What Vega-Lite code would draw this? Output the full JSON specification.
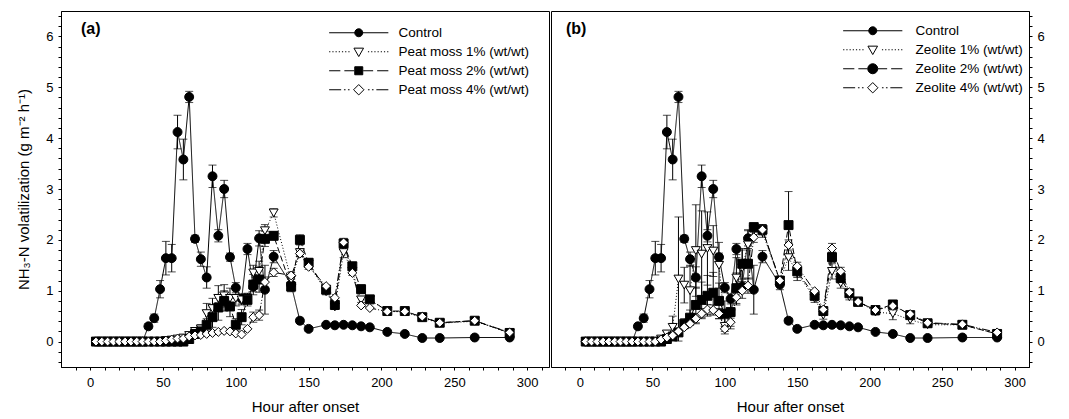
{
"$schema":"https://vega.github.io/schema/vega-lite/v6.json",
"padding":{"left":16,"top":9,"right":0,"bottom":0},
"config":{"font":"Liberation Sans","view":{"stroke":"black","strokeWidth":1},
"axis":{"grid":false,"domainColor":"black","tickColor":"black","labelColor":"black","titleColor":"black","labelFont":"Liberation Sans","titleFont":"Liberation Sans","labelFontSize":13,"titleFontSize":15,"titleFontWeight":"normal","labelFlush":false,"labelOverlap":false,"labelBound":false}},
"datasets":{"d":[
{"p":"ab","s":"C","h":4,"v":0},{"p":"ab","s":"C","h":8,"v":0},{"p":"ab","s":"C","h":12,"v":0},{"p":"ab","s":"C","h":16,"v":0},{"p":"ab","s":"C","h":20,"v":0},{"p":"ab","s":"C","h":24,"v":0},{"p":"ab","s":"C","h":28,"v":0},{"p":"ab","s":"C","h":32,"v":0},{"p":"ab","s":"C","h":36,"v":0},
{"p":"ab","s":"C","h":40,"v":0.30,"e":0.05},{"p":"ab","s":"C","h":44,"v":0.46,"e":0.08},{"p":"ab","s":"C","h":48,"v":1.03,"e":0.17},{"p":"ab","s":"C","h":52,"v":1.64,"e":0.33},{"p":"ab","s":"C","h":56,"v":1.64,"e":0.27},{"p":"ab","s":"C","h":60,"v":4.12,"e":0.33},{"p":"ab","s":"C","h":64,"v":3.58,"e":0.40},{"p":"ab","s":"C","h":68,"v":4.81,"e":0.11},{"p":"ab","s":"C","h":72,"v":2.02,"e":0.07},{"p":"ab","s":"C","h":76,"v":1.62,"e":0.14},{"p":"ab","s":"C","h":80,"v":1.26,"e":0.21},{"p":"ab","s":"C","h":84,"v":3.25,"e":0.22},{"p":"ab","s":"C","h":88,"v":2.08,"e":0.12},{"p":"ab","s":"C","h":92,"v":3.00,"e":0.17},{"p":"ab","s":"C","h":96,"v":1.66,"e":0.08},{"p":"ab","s":"C","h":100,"v":1.06,"e":0.10},{"p":"ab","s":"C","h":104,"v":0.84,"e":0.10},{"p":"ab","s":"C","h":108,"v":1.82,"e":0.11},{"p":"ab","s":"C","h":112,"v":1.08,"e":0.10},{"p":"ab","s":"C","h":116,"v":2.03,"e":0.15},{"p":"ab","s":"C","h":120,"v":1.02,"e":0.48},{"p":"ab","s":"C","h":126,"v":1.67,"e":0.12},{"p":"ab","s":"C","h":138,"v":1.12,"e":0.10},{"p":"ab","s":"C","h":144,"v":0.41,"e":0.05},{"p":"ab","s":"C","h":150,"v":0.25,"e":0.04},{"p":"ab","s":"C","h":162,"v":0.33,"e":0.03},{"p":"ab","s":"C","h":168,"v":0.32,"e":0.03},{"p":"ab","s":"C","h":174,"v":0.33,"e":0.03},{"p":"ab","s":"C","h":180,"v":0.32},{"p":"ab","s":"C","h":186,"v":0.30},{"p":"ab","s":"C","h":192,"v":0.28},{"p":"ab","s":"C","h":204,"v":0.19},{"p":"ab","s":"C","h":216,"v":0.15},{"p":"ab","s":"C","h":228,"v":0.07},{"p":"ab","s":"C","h":240,"v":0.07},{"p":"ab","s":"C","h":264,"v":0.08},{"p":"ab","s":"C","h":288,"v":0.08},
{"p":"a","s":"P1","h":4,"v":0},{"p":"a","s":"P1","h":8,"v":0},{"p":"a","s":"P1","h":12,"v":0},{"p":"a","s":"P1","h":16,"v":0},{"p":"a","s":"P1","h":20,"v":0},{"p":"a","s":"P1","h":24,"v":0},{"p":"a","s":"P1","h":28,"v":0},{"p":"a","s":"P1","h":32,"v":0},{"p":"a","s":"P1","h":36,"v":0},{"p":"a","s":"P1","h":40,"v":0},{"p":"a","s":"P1","h":44,"v":0},{"p":"a","s":"P1","h":48,"v":0},
{"p":"a","s":"P1","h":52,"v":0.02},{"p":"a","s":"P1","h":56,"v":0.03},{"p":"a","s":"P1","h":60,"v":0.05},{"p":"a","s":"P1","h":64,"v":0.07},{"p":"a","s":"P1","h":68,"v":0.12},{"p":"a","s":"P1","h":72,"v":0.20,"e":0.05},{"p":"a","s":"P1","h":76,"v":0.25,"e":0.08},{"p":"a","s":"P1","h":80,"v":0.55,"e":0.2},{"p":"a","s":"P1","h":84,"v":0.65,"e":0.2},{"p":"a","s":"P1","h":88,"v":0.85,"e":0.25},{"p":"a","s":"P1","h":92,"v":0.90,"e":0.22},{"p":"a","s":"P1","h":96,"v":0.85,"e":0.2},{"p":"a","s":"P1","h":100,"v":0.85,"e":0.15},{"p":"a","s":"P1","h":104,"v":0.82,"e":0.1},{"p":"a","s":"P1","h":108,"v":0.85,"e":0.1},{"p":"a","s":"P1","h":112,"v":1.35,"e":0.15},{"p":"a","s":"P1","h":116,"v":1.38,"e":0.2},{"p":"a","s":"P1","h":120,"v":2.18,"e":0.12},{"p":"a","s":"P1","h":126,"v":2.53,"e":0.08},{"p":"a","s":"P1","h":138,"v":1.22,"e":0.1},{"p":"a","s":"P1","h":144,"v":1.75,"e":0.08},{"p":"a","s":"P1","h":150,"v":1.52,"e":0.06},{"p":"a","s":"P1","h":162,"v":0.98,"e":0.06},{"p":"a","s":"P1","h":168,"v":0.68,"e":0.05},{"p":"a","s":"P1","h":174,"v":1.75,"e":0.1},{"p":"a","s":"P1","h":180,"v":1.38,"e":0.08},{"p":"a","s":"P1","h":186,"v":0.82,"e":0.05},{"p":"a","s":"P1","h":192,"v":0.82},{"p":"a","s":"P1","h":204,"v":0.60},{"p":"a","s":"P1","h":216,"v":0.58},{"p":"a","s":"P1","h":228,"v":0.47},{"p":"a","s":"P1","h":240,"v":0.36},{"p":"a","s":"P1","h":264,"v":0.40},{"p":"a","s":"P1","h":288,"v":0.17},
{"p":"a","s":"P2","h":4,"v":0},{"p":"a","s":"P2","h":8,"v":0},{"p":"a","s":"P2","h":12,"v":0},{"p":"a","s":"P2","h":16,"v":0},{"p":"a","s":"P2","h":20,"v":0},{"p":"a","s":"P2","h":24,"v":0},{"p":"a","s":"P2","h":28,"v":0},{"p":"a","s":"P2","h":32,"v":0},{"p":"a","s":"P2","h":36,"v":0},{"p":"a","s":"P2","h":40,"v":0},{"p":"a","s":"P2","h":44,"v":0},{"p":"a","s":"P2","h":48,"v":0},{"p":"a","s":"P2","h":52,"v":0},{"p":"a","s":"P2","h":56,"v":0},{"p":"a","s":"P2","h":60,"v":0},{"p":"a","s":"P2","h":64,"v":0},
{"p":"a","s":"P2","h":68,"v":0.05},{"p":"a","s":"P2","h":72,"v":0.15},{"p":"a","s":"P2","h":76,"v":0.20,"e":0.05},{"p":"a","s":"P2","h":80,"v":0.33,"e":0.12},{"p":"a","s":"P2","h":84,"v":0.48,"e":0.2},{"p":"a","s":"P2","h":88,"v":0.67,"e":0.25},{"p":"a","s":"P2","h":92,"v":0.80,"e":0.2},{"p":"a","s":"P2","h":96,"v":0.69,"e":0.2},{"p":"a","s":"P2","h":100,"v":0.33,"e":0.12},{"p":"a","s":"P2","h":104,"v":0.48,"e":0.15},{"p":"a","s":"P2","h":108,"v":0.82,"e":0.12},{"p":"a","s":"P2","h":112,"v":1.12,"e":0.2},{"p":"a","s":"P2","h":116,"v":1.22,"e":0.25},{"p":"a","s":"P2","h":120,"v":2.02,"e":0.15},{"p":"a","s":"P2","h":126,"v":2.08,"e":0.08},{"p":"a","s":"P2","h":138,"v":1.08,"e":0.1},{"p":"a","s":"P2","h":144,"v":2.0,"e":0.1},{"p":"a","s":"P2","h":150,"v":1.55,"e":0.08},{"p":"a","s":"P2","h":162,"v":1.02,"e":0.06},{"p":"a","s":"P2","h":168,"v":0.72,"e":0.05},{"p":"a","s":"P2","h":174,"v":1.93,"e":0.08},{"p":"a","s":"P2","h":180,"v":1.48,"e":0.08},{"p":"a","s":"P2","h":186,"v":1.03,"e":0.08},{"p":"a","s":"P2","h":192,"v":0.83,"e":0.06},{"p":"a","s":"P2","h":204,"v":0.60},{"p":"a","s":"P2","h":216,"v":0.60},{"p":"a","s":"P2","h":228,"v":0.48},{"p":"a","s":"P2","h":240,"v":0.37},{"p":"a","s":"P2","h":264,"v":0.41},{"p":"a","s":"P2","h":288,"v":0.17},
{"p":"a","s":"P4","h":4,"v":0},{"p":"a","s":"P4","h":8,"v":0},{"p":"a","s":"P4","h":12,"v":0},{"p":"a","s":"P4","h":16,"v":0},{"p":"a","s":"P4","h":20,"v":0},{"p":"a","s":"P4","h":24,"v":0},{"p":"a","s":"P4","h":28,"v":0},{"p":"a","s":"P4","h":32,"v":0},{"p":"a","s":"P4","h":36,"v":0},{"p":"a","s":"P4","h":40,"v":0},{"p":"a","s":"P4","h":44,"v":0},{"p":"a","s":"P4","h":48,"v":0},
{"p":"a","s":"P4","h":52,"v":0.02},{"p":"a","s":"P4","h":56,"v":0.04},{"p":"a","s":"P4","h":60,"v":0.06},{"p":"a","s":"P4","h":64,"v":0.06},{"p":"a","s":"P4","h":68,"v":0.10},{"p":"a","s":"P4","h":72,"v":0.12},{"p":"a","s":"P4","h":76,"v":0.13},{"p":"a","s":"P4","h":80,"v":0.15},{"p":"a","s":"P4","h":84,"v":0.17},{"p":"a","s":"P4","h":88,"v":0.19},{"p":"a","s":"P4","h":92,"v":0.21},{"p":"a","s":"P4","h":96,"v":0.20},{"p":"a","s":"P4","h":100,"v":0.16},{"p":"a","s":"P4","h":104,"v":0.14},{"p":"a","s":"P4","h":108,"v":0.25},{"p":"a","s":"P4","h":112,"v":0.48,"e":0.1},{"p":"a","s":"P4","h":116,"v":0.52,"e":0.1},{"p":"a","s":"P4","h":120,"v":1.17,"e":0.1},{"p":"a","s":"P4","h":126,"v":1.36,"e":0.08},{"p":"a","s":"P4","h":138,"v":1.30,"e":0.06},{"p":"a","s":"P4","h":144,"v":1.73,"e":0.06},{"p":"a","s":"P4","h":150,"v":1.47,"e":0.05},{"p":"a","s":"P4","h":162,"v":1.09},{"p":"a","s":"P4","h":168,"v":0.86},{"p":"a","s":"P4","h":174,"v":1.95,"e":0.08},{"p":"a","s":"P4","h":180,"v":1.35},{"p":"a","s":"P4","h":186,"v":0.71},{"p":"a","s":"P4","h":192,"v":0.66},{"p":"a","s":"P4","h":204,"v":0.59},{"p":"a","s":"P4","h":216,"v":0.59},{"p":"a","s":"P4","h":228,"v":0.49},{"p":"a","s":"P4","h":240,"v":0.37},{"p":"a","s":"P4","h":264,"v":0.41},{"p":"a","s":"P4","h":288,"v":0.18},
{"p":"b","s":"Z1","h":4,"v":0},{"p":"b","s":"Z1","h":8,"v":0},{"p":"b","s":"Z1","h":12,"v":0},{"p":"b","s":"Z1","h":16,"v":0},{"p":"b","s":"Z1","h":20,"v":0},{"p":"b","s":"Z1","h":24,"v":0},{"p":"b","s":"Z1","h":28,"v":0},{"p":"b","s":"Z1","h":32,"v":0},{"p":"b","s":"Z1","h":36,"v":0},{"p":"b","s":"Z1","h":40,"v":0},{"p":"b","s":"Z1","h":44,"v":0},{"p":"b","s":"Z1","h":48,"v":0},{"p":"b","s":"Z1","h":52,"v":0},
{"p":"b","s":"Z1","h":56,"v":0.05},{"p":"b","s":"Z1","h":60,"v":0.15,"e":0.05},{"p":"b","s":"Z1","h":64,"v":0.28,"e":0.22},{"p":"b","s":"Z1","h":68,"v":1.23,"e":1.22},{"p":"b","s":"Z1","h":72,"v":1.11,"e":0.35},{"p":"b","s":"Z1","h":76,"v":1.0,"e":0.5},{"p":"b","s":"Z1","h":80,"v":1.79,"e":0.9},{"p":"b","s":"Z1","h":84,"v":1.72,"e":0.85},{"p":"b","s":"Z1","h":88,"v":1.83,"e":0.72},{"p":"b","s":"Z1","h":92,"v":1.78,"e":0.5},{"p":"b","s":"Z1","h":96,"v":1.50,"e":0.45},{"p":"b","s":"Z1","h":100,"v":0.30,"e":0.15},{"p":"b","s":"Z1","h":104,"v":0.55,"e":0.3},{"p":"b","s":"Z1","h":108,"v":1.25,"e":0.4},{"p":"b","s":"Z1","h":112,"v":1.45,"e":0.35},{"p":"b","s":"Z1","h":116,"v":1.90,"e":0.3},{"p":"b","s":"Z1","h":120,"v":2.20,"e":0.1},{"p":"b","s":"Z1","h":126,"v":2.15,"e":0.1},{"p":"b","s":"Z1","h":138,"v":1.20,"e":0.08},{"p":"b","s":"Z1","h":144,"v":1.65,"e":0.25},{"p":"b","s":"Z1","h":150,"v":1.35,"e":0.15},{"p":"b","s":"Z1","h":162,"v":0.85,"e":0.08},{"p":"b","s":"Z1","h":168,"v":0.52,"e":0.08},{"p":"b","s":"Z1","h":174,"v":1.38,"e":0.15},{"p":"b","s":"Z1","h":180,"v":1.15,"e":0.1},{"p":"b","s":"Z1","h":186,"v":0.88,"e":0.06},{"p":"b","s":"Z1","h":192,"v":0.80,"e":0.05},{"p":"b","s":"Z1","h":204,"v":0.58,"e":0.06},{"p":"b","s":"Z1","h":216,"v":0.55,"e":0.12},{"p":"b","s":"Z1","h":228,"v":0.43,"e":0.08},{"p":"b","s":"Z1","h":240,"v":0.33,"e":0.05},{"p":"b","s":"Z1","h":264,"v":0.33,"e":0.05},{"p":"b","s":"Z1","h":288,"v":0.15},
{"p":"b","s":"Z2","h":4,"v":0},{"p":"b","s":"Z2","h":8,"v":0},{"p":"b","s":"Z2","h":12,"v":0},{"p":"b","s":"Z2","h":16,"v":0},{"p":"b","s":"Z2","h":20,"v":0},{"p":"b","s":"Z2","h":24,"v":0},{"p":"b","s":"Z2","h":28,"v":0},{"p":"b","s":"Z2","h":32,"v":0},{"p":"b","s":"Z2","h":36,"v":0},{"p":"b","s":"Z2","h":40,"v":0},{"p":"b","s":"Z2","h":44,"v":0},{"p":"b","s":"Z2","h":48,"v":0},{"p":"b","s":"Z2","h":52,"v":0},{"p":"b","s":"Z2","h":56,"v":0},
{"p":"b","s":"Z2","h":60,"v":0.05},{"p":"b","s":"Z2","h":64,"v":0.10},{"p":"b","s":"Z2","h":68,"v":0.18},{"p":"b","s":"Z2","h":72,"v":0.35,"e":0.1},{"p":"b","s":"Z2","h":76,"v":0.47,"e":0.15},{"p":"b","s":"Z2","h":80,"v":0.72,"e":0.35},{"p":"b","s":"Z2","h":84,"v":0.82,"e":0.35},{"p":"b","s":"Z2","h":88,"v":0.90,"e":0.4},{"p":"b","s":"Z2","h":92,"v":0.96,"e":0.4},{"p":"b","s":"Z2","h":96,"v":0.80,"e":0.35},{"p":"b","s":"Z2","h":100,"v":0.55,"e":0.25},{"p":"b","s":"Z2","h":104,"v":0.58,"e":0.2},{"p":"b","s":"Z2","h":108,"v":1.05,"e":0.3},{"p":"b","s":"Z2","h":112,"v":1.53,"e":0.3},{"p":"b","s":"Z2","h":116,"v":1.53,"e":0.3},{"p":"b","s":"Z2","h":120,"v":2.25,"e":0.08},{"p":"b","s":"Z2","h":126,"v":2.20,"e":0.1},{"p":"b","s":"Z2","h":138,"v":1.20,"e":0.08},{"p":"b","s":"Z2","h":144,"v":2.29,"e":0.66},{"p":"b","s":"Z2","h":150,"v":1.38,"e":0.12},{"p":"b","s":"Z2","h":162,"v":0.90,"e":0.08},{"p":"b","s":"Z2","h":168,"v":0.60,"e":0.06},{"p":"b","s":"Z2","h":174,"v":1.66,"e":0.1},{"p":"b","s":"Z2","h":180,"v":1.25,"e":0.1},{"p":"b","s":"Z2","h":186,"v":0.95,"e":0.06},{"p":"b","s":"Z2","h":192,"v":0.78},{"p":"b","s":"Z2","h":204,"v":0.62},{"p":"b","s":"Z2","h":216,"v":0.73,"e":0.06},{"p":"b","s":"Z2","h":228,"v":0.52},{"p":"b","s":"Z2","h":240,"v":0.36},{"p":"b","s":"Z2","h":264,"v":0.33},{"p":"b","s":"Z2","h":288,"v":0.15},
{"p":"b","s":"Z4","h":4,"v":0},{"p":"b","s":"Z4","h":8,"v":0},{"p":"b","s":"Z4","h":12,"v":0},{"p":"b","s":"Z4","h":16,"v":0},{"p":"b","s":"Z4","h":20,"v":0},{"p":"b","s":"Z4","h":24,"v":0},{"p":"b","s":"Z4","h":28,"v":0},{"p":"b","s":"Z4","h":32,"v":0},{"p":"b","s":"Z4","h":36,"v":0},{"p":"b","s":"Z4","h":40,"v":0},{"p":"b","s":"Z4","h":44,"v":0},{"p":"b","s":"Z4","h":48,"v":0},{"p":"b","s":"Z4","h":52,"v":0},
{"p":"b","s":"Z4","h":56,"v":0.04},{"p":"b","s":"Z4","h":60,"v":0.08},{"p":"b","s":"Z4","h":64,"v":0.12},{"p":"b","s":"Z4","h":68,"v":0.20},{"p":"b","s":"Z4","h":72,"v":0.28},{"p":"b","s":"Z4","h":76,"v":0.35},{"p":"b","s":"Z4","h":80,"v":0.45,"e":0.1},{"p":"b","s":"Z4","h":84,"v":0.55,"e":0.1},{"p":"b","s":"Z4","h":88,"v":0.63,"e":0.1},{"p":"b","s":"Z4","h":92,"v":0.62,"e":0.1},{"p":"b","s":"Z4","h":96,"v":0.55,"e":0.1},{"p":"b","s":"Z4","h":100,"v":0.25,"e":0.05},{"p":"b","s":"Z4","h":104,"v":0.38,"e":0.08},{"p":"b","s":"Z4","h":108,"v":0.87,"e":0.15},{"p":"b","s":"Z4","h":112,"v":1.00,"e":0.15},{"p":"b","s":"Z4","h":116,"v":1.10,"e":0.15},{"p":"b","s":"Z4","h":120,"v":2.05,"e":0.1},{"p":"b","s":"Z4","h":126,"v":2.20,"e":0.1},{"p":"b","s":"Z4","h":138,"v":1.20},{"p":"b","s":"Z4","h":144,"v":1.90,"e":0.1},{"p":"b","s":"Z4","h":150,"v":1.48,"e":0.08},{"p":"b","s":"Z4","h":162,"v":0.99},{"p":"b","s":"Z4","h":168,"v":0.63},{"p":"b","s":"Z4","h":174,"v":1.83,"e":0.1},{"p":"b","s":"Z4","h":180,"v":1.38,"e":0.08},{"p":"b","s":"Z4","h":186,"v":0.97},{"p":"b","s":"Z4","h":192,"v":0.78},{"p":"b","s":"Z4","h":204,"v":0.62},{"p":"b","s":"Z4","h":216,"v":0.70},{"p":"b","s":"Z4","h":228,"v":0.54},{"p":"b","s":"Z4","h":240,"v":0.37},{"p":"b","s":"Z4","h":264,"v":0.34},{"p":"b","s":"Z4","h":288,"v":0.18}
]},
"spacing":0,
"resolve":{"scale":{"shape":"independent","fill":"independent","stroke":"independent","strokeDash":"independent","size":"independent"},"legend":{"shape":"independent","fill":"independent","stroke":"independent","strokeDash":"independent","size":"independent"}},
"hconcat":[
{
"width":488,"height":356,
"title":{"text":"(a)","anchor":"start","frame":"group","orient":"top","offset":-40,"dx":20,"baseline":"alphabetic","fontSize":16,"fontWeight":"bold","font":"Liberation Sans","color":"black"},
"data":{"name":"d"},
"transform":[{"filter":"indexof(datum.p,'a') >= 0"}],
"encoding":{
"x":{"field":"h","type":"quantitative","scale":{"domain":[-20,315],"nice":false,"zero":false},"axis":{"values":[-10,0,10,20,30,40,50,60,70,80,90,100,110,120,130,140,150,160,170,180,190,200,210,220,230,240,250,260,270,280,290,300,310],"tickCount":200,"tickMinStep":1,"format":"d","labelExpr":"datum.value % 50 === 0 ? datum.label : ''","labelOverlap":false,"tickSize":3,"labelPadding":6,"title":"Hour after onset","titlePadding":10,"encode":{"ticks":{"y2":{"value":{"expr":"datum.value % 50 === 0 ? -6 : -3"}}}}}},
"y":{"field":"v","type":"quantitative","scale":{"domain":[-0.5,6.5],"nice":false,"zero":false},"axis":{"orient":"left","values":[-0.4,-0.2,0,0.2,0.4,0.6,0.8,1,1.2,1.4,1.6,1.8,2,2.2,2.4,2.6,2.8,3,3.2,3.4,3.6,3.8,4,4.2,4.4,4.6,4.8,5,5.2,5.4,5.6,5.8,6,6.2,6.4],"tickCount":200,"tickMinStep":0.1,"format":"d","labelExpr":"abs(datum.value - round(datum.value)) < 0.001 ? datum.label : ''","labelOverlap":false,"tickSize":3,"labelPadding":5,"title":"NH₃-N volatilization (g m⁻² h⁻¹)","titlePadding":14,"encode":{"ticks":{"x2":{"value":{"expr":"abs(datum.value - round(datum.value)) < 0.001 ? 6 : 3"}}}}}}
},
"resolve":{"scale":{"shape":"independent","fill":"independent","stroke":"independent","size":"independent","strokeDash":"independent"},"legend":{"shape":"independent","fill":"independent","stroke":"independent","size":"independent","strokeDash":"independent"}},
"layer":[
{"transform":[{"filter":"datum.e > 0"}],"mark":{"type":"errorbar","color":"black","thickness":1,"ticks":{"size":8,"color":"black"}},"encoding":{"yError":{"field":"e"}}},
{"mark":{"type":"line","color":"black","strokeWidth":1},"encoding":{"strokeDash":{"field":"s","type":"nominal","scale":{"domain":["C","P1","P2","P4","-"],"range":[[1,0],[1,2],[6,3],[8,2,1,2,1,2],[1,0]]},"legend":null}}},
{"mark":{"type":"point","filled":true,"opacity":1,"stroke":"black","strokeWidth":1},
"encoding":{
"size":{"field":"s","type":"nominal","scale":{"domain":["C","P1","P2","P4","-"],"range":[80,80,70,100,64]},"legend":null},
"fill":{"field":"s","type":"nominal","scale":{"domain":["C","P1","P2","P4","-"],"range":["black","white","black","white","black"]},"legend":null},
"shape":{"field":"s","type":"nominal","scale":{"domain":["C","P1","P2","P4","-"],"range":["circle","triangle-down","square","diamond","circle"]},"legend":null}}},
{"transform":[{"filter":"false"}],"mark":{"type":"point","filled":true,"opacity":1,"strokeWidth":1},
"encoding":{
"stroke":{"field":"s","type":"nominal","scale":{"domain":["C","P1","P2","P4"],"range":["black","black","black","black"]},
"legend":{"orient":"none","legendX":291,"legendY":15,"direction":"vertical","title":null,"padding":0,"labelFont":"Liberation Sans","labelFontSize":13.5,"labelColor":"black","labelOffset":33,"labelLimit":300,"symbolSize":64,"symbolStrokeWidth":1,"symbolOpacity":1,"rowPadding":4,
"labelExpr":"datum.value === 'C' ? 'Control' : datum.value === 'P1' ? 'Peat moss 1% (wt/wt)' : datum.value === 'P2' ? 'Peat moss 2% (wt/wt)' : 'Peat moss 4% (wt/wt)'"}},
"fill":{"field":"s","type":"nominal","scale":{"domain":["C","P1","P2","P4"],"range":["black","white","black","white"]},
"legend":{"orient":"none","legendX":291,"legendY":15,"direction":"vertical","title":null,"padding":0,"labelFont":"Liberation Sans","labelFontSize":13.5,"labelColor":"black","labelOffset":33,"labelLimit":300,"symbolSize":64,"symbolStrokeWidth":1,"symbolOpacity":1,"rowPadding":4,
"labelExpr":"datum.value === 'C' ? 'Control' : datum.value === 'P1' ? 'Peat moss 1% (wt/wt)' : datum.value === 'P2' ? 'Peat moss 2% (wt/wt)' : 'Peat moss 4% (wt/wt)'"}},
"shape":{"field":"s","type":"nominal","scale":{"domain":["C","P1","P2","P4"],"range":["M-7.4,0H7.4M1,0A1,1,0,1,1,-1,0A1,1,0,1,1,1,0Z","M-7.4,0h0.3M-6.6,0h0.3M-5.8,0h0.3M-5,0h0.3M-4.2,0h0.3M-3.4,0h0.3M-2.6,0h0.3M2.3,0h0.3M3.1,0h0.3M3.9,0h0.3M4.7,0h0.3M5.5,0h0.3M6.3,0h0.3M7.1,0h0.3M-1.2,-0.9L1.2,-0.9L0,1.2Z","M-7.4,0H-4.6M-3.6,0H-1.1M1.1,0H3.6M4.6,0H7.4M-1,-1H1V1H-1Z","M-7.4,0H-4.4M-3.7,0h0.4M-2.7,0h0.4M2.3,0h0.4M3.3,0h0.4M4.4,0H7.4M0,-1.3L1.3,0L0,1.3L-1.3,0Z"]},
"legend":{"orient":"none","legendX":291,"legendY":15,"direction":"vertical","title":null,"padding":0,"labelFont":"Liberation Sans","labelFontSize":13.5,"labelColor":"black","labelOffset":33,"labelLimit":300,"symbolSize":64,"symbolStrokeWidth":1,"symbolOpacity":1,"rowPadding":4,
"labelExpr":"datum.value === 'C' ? 'Control' : datum.value === 'P1' ? 'Peat moss 1% (wt/wt)' : datum.value === 'P2' ? 'Peat moss 2% (wt/wt)' : 'Peat moss 4% (wt/wt)'"}}
}}
]
},
{
"width":478,"height":356,
"title":{"text":"(b)","anchor":"start","frame":"group","orient":"top","offset":-40,"dx":15,"baseline":"alphabetic","fontSize":16,"fontWeight":"bold","font":"Liberation Sans","color":"black"},
"data":{"name":"d"},
"transform":[{"filter":"indexof(datum.p,'b') >= 0"}],
"encoding":{
"x":{"field":"h","type":"quantitative","scale":{"domain":[-20,310],"nice":false,"zero":false},"axis":{"values":[-10,0,10,20,30,40,50,60,70,80,90,100,110,120,130,140,150,160,170,180,190,200,210,220,230,240,250,260,270,280,290,300],"tickCount":200,"tickMinStep":1,"format":"d","labelExpr":"datum.value % 50 === 0 ? datum.label : ''","labelOverlap":false,"tickSize":3,"labelPadding":6,"title":"Hour after onset","titlePadding":10,"encode":{"ticks":{"y2":{"value":{"expr":"datum.value % 50 === 0 ? -6 : -3"}}}}}},
"y":{"field":"v","type":"quantitative","scale":{"domain":[-0.5,6.5],"nice":false,"zero":false},"axis":{"orient":"right","values":[-0.4,-0.2,0,0.2,0.4,0.6,0.8,1,1.2,1.4,1.6,1.8,2,2.2,2.4,2.6,2.8,3,3.2,3.4,3.6,3.8,4,4.2,4.4,4.6,4.8,5,5.2,5.4,5.6,5.8,6,6.2,6.4],"tickCount":200,"tickMinStep":0.1,"format":"d","labelExpr":"abs(datum.value - round(datum.value)) < 0.001 ? datum.label : ''","labelOverlap":false,"tickSize":3,"labelPadding":5,"title":null,"encode":{"ticks":{"x2":{"value":{"expr":"abs(datum.value - round(datum.value)) < 0.001 ? -6 : -3"}}}}}}
},
"resolve":{"scale":{"shape":"independent","fill":"independent","stroke":"independent","size":"independent","strokeDash":"independent"},"legend":{"shape":"independent","fill":"independent","stroke":"independent","size":"independent","strokeDash":"independent"}},
"layer":[
{"transform":[{"filter":"datum.e > 0"}],"mark":{"type":"errorbar","color":"black","thickness":1,"ticks":{"size":8,"color":"black"}},"encoding":{"yError":{"field":"e"}}},
{"mark":{"type":"line","color":"black","strokeWidth":1},"encoding":{"strokeDash":{"field":"s","type":"nominal","scale":{"domain":["C","Z1","Z2","Z4","-"],"range":[[1,0],[1,2],[6,3],[8,2,1,2,1,2],[1,0]]},"legend":null}}},
{"mark":{"type":"point","filled":true,"opacity":1,"stroke":"black","strokeWidth":1},
"encoding":{
"size":{"field":"s","type":"nominal","scale":{"domain":["C","Z1","Z2","Z4","-"],"range":[80,80,70,100,64]},"legend":null},
"fill":{"field":"s","type":"nominal","scale":{"domain":["C","Z1","Z2","Z4","-"],"range":["black","white","black","white","black"]},"legend":null},
"shape":{"field":"s","type":"nominal","scale":{"domain":["C","Z1","Z2","Z4","-"],"range":["circle","triangle-down","square","diamond","circle"]},"legend":null}}},
{"transform":[{"filter":"false"}],"mark":{"type":"point","filled":true,"opacity":1,"strokeWidth":1},
"encoding":{
"stroke":{"field":"s","type":"nominal","scale":{"domain":["C","Z1","Z2","Z4"],"range":["black","black","black","black"]},
"legend":{"orient":"none","legendX":315,"legendY":13,"direction":"vertical","title":null,"padding":0,"labelFont":"Liberation Sans","labelFontSize":13.5,"labelColor":"black","labelOffset":36,"labelLimit":300,"symbolSize":64,"symbolStrokeWidth":1,"symbolOpacity":1,"rowPadding":4,
"labelExpr":"datum.value === 'C' ? 'Control' : datum.value === 'Z1' ? 'Zeolite 1% (wt/wt)' : datum.value === 'Z2' ? 'Zeolite 2% (wt/wt)' : 'Zeolite 4% (wt/wt)'"}},
"fill":{"field":"s","type":"nominal","scale":{"domain":["C","Z1","Z2","Z4"],"range":["black","white","black","white"]},
"legend":{"orient":"none","legendX":315,"legendY":13,"direction":"vertical","title":null,"padding":0,"labelFont":"Liberation Sans","labelFontSize":13.5,"labelColor":"black","labelOffset":36,"labelLimit":300,"symbolSize":64,"symbolStrokeWidth":1,"symbolOpacity":1,"rowPadding":4,
"labelExpr":"datum.value === 'C' ? 'Control' : datum.value === 'Z1' ? 'Zeolite 1% (wt/wt)' : datum.value === 'Z2' ? 'Zeolite 2% (wt/wt)' : 'Zeolite 4% (wt/wt)'"}},
"shape":{"field":"s","type":"nominal","scale":{"domain":["C","Z1","Z2","Z4"],"range":["M-7.4,0H7.4M1,0A1,1,0,1,1,-1,0A1,1,0,1,1,1,0Z","M-7.4,0h0.3M-6.6,0h0.3M-5.8,0h0.3M-5,0h0.3M-4.2,0h0.3M-3.4,0h0.3M-2.6,0h0.3M2.3,0h0.3M3.1,0h0.3M3.9,0h0.3M4.7,0h0.3M5.5,0h0.3M6.3,0h0.3M7.1,0h0.3M-1.2,-0.9L1.2,-0.9L0,1.2Z","M-7.4,0H-4.6M-3.6,0H-1.3M1.3,0H3.6M4.6,0H7.4M1.25,0A1.25,1.25,0,1,1,-1.25,0A1.25,1.25,0,1,1,1.25,0Z","M-7.4,0H-4.4M-3.7,0h0.4M-2.7,0h0.4M2.3,0h0.4M3.3,0h0.4M4.4,0H7.4M0,-1.3L1.3,0L0,1.3L-1.3,0Z"]},
"legend":{"orient":"none","legendX":315,"legendY":13,"direction":"vertical","title":null,"padding":0,"labelFont":"Liberation Sans","labelFontSize":13.5,"labelColor":"black","labelOffset":36,"labelLimit":300,"symbolSize":64,"symbolStrokeWidth":1,"symbolOpacity":1,"rowPadding":4,
"labelExpr":"datum.value === 'C' ? 'Control' : datum.value === 'Z1' ? 'Zeolite 1% (wt/wt)' : datum.value === 'Z2' ? 'Zeolite 2% (wt/wt)' : 'Zeolite 4% (wt/wt)'"}}
}}
]
}
]
}
